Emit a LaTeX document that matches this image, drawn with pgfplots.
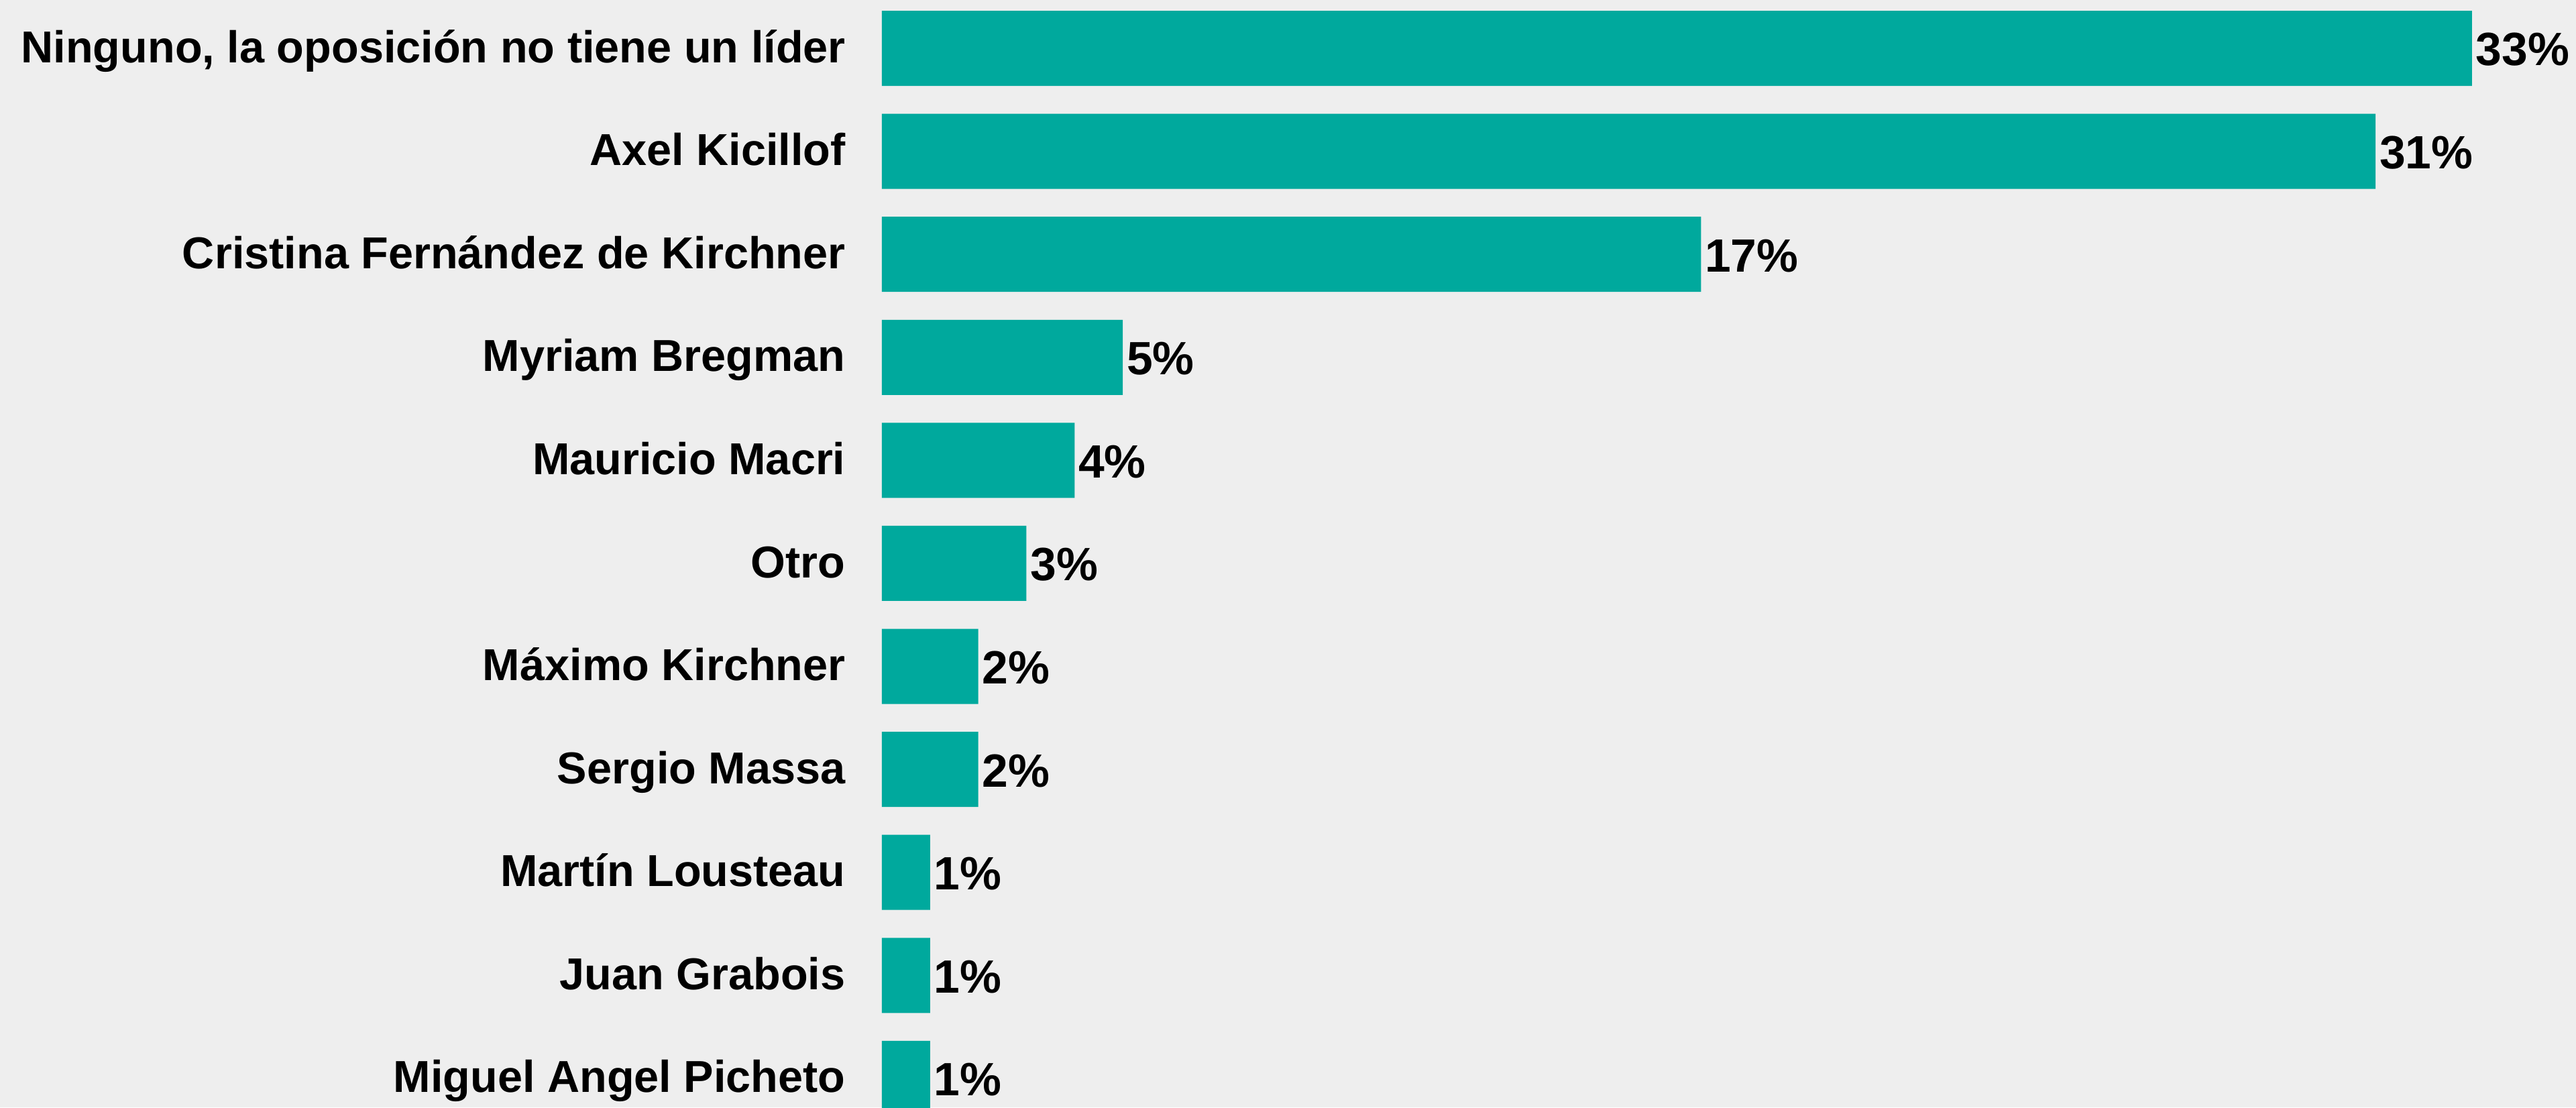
\documentclass[border=0pt]{standalone}
\usepackage{pgfplots}
\pgfplotsset{compat=1.18}
\usepackage{fontspec}
\setmainfont{Liberation Sans}
\definecolor{barc}{HTML}{00A99D}
\definecolor{bgc}{HTML}{EEEEEE}
\begin{document}
\begin{tikzpicture}
\useasboundingbox (0,0) rectangle (784bp,337bp);
\fill[bgc] (0,0) rectangle (784bp,337bp);
\begin{axis}[
  at={(268.4bp,0)}, anchor=south west,
  scale only axis, width=515.6bp, height=337bp,
  xmin=0, xmax=35.16,
  ymin=-0.469, ymax=10.281, y dir=reverse,
  xbar, bar width=22.86bp, bar shift=0pt,
  axis line style={draw=none},
  tick style={draw=none},
  major tick length=0pt,
  xtick=\empty,
  ytick={0,...,10},
  yticklabels={{Ninguno, la oposición no tiene un líder},{Axel Kicillof},{Cristina Fernández de Kirchner},{Myriam Bregman},{Mauricio Macri},{Otro},{Máximo Kirchner},{Sergio Massa},{Martín Lousteau},{Juan Grabois},{Miguel Angel Picheto}},
  yticklabel style={font=\bfseries\fontsize{13.6bp}{16bp}\selectfont, anchor=base east, inner sep=0pt, xshift=-10.9bp, yshift=-4.3bp},
  nodes near coords={\pgfmathprintnumber[assume math mode=true]{\pgfplotspointmeta}\%},
  nodes near coords style={font=\bfseries\fontsize{14.2bp}{16bp}\selectfont, anchor=base west, inner sep=0pt, xshift=1.0bp, yshift=-5.3bp, text=black},
]
\addplot[fill=barc, draw=none] coordinates {
(33,0) (31,1) (17,2) (5,3) (4,4) (3,5) (2,6) (2,7) (1,8) (1,9) (1,10)
};
\end{axis}
\end{tikzpicture}
\end{document}
